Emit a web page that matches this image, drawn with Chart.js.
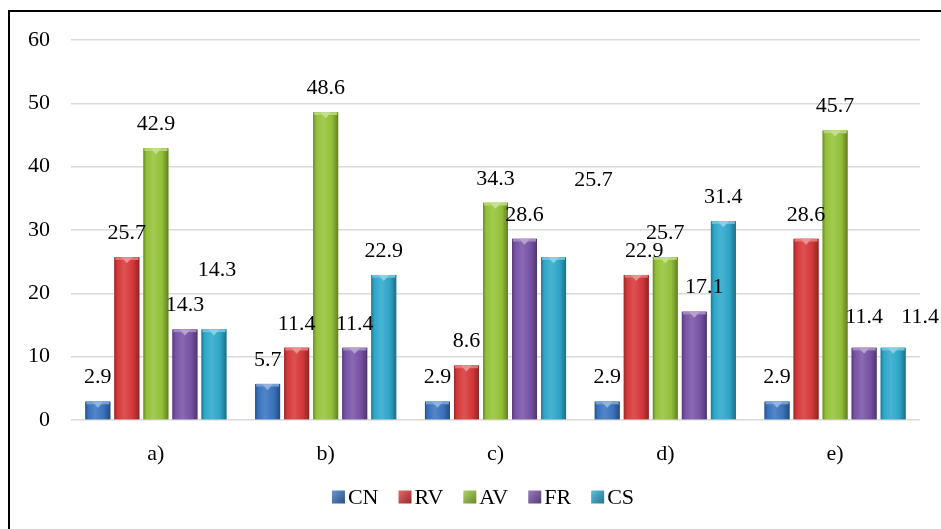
<!DOCTYPE html>
<html>
<head>
<meta charset="utf-8">
<script src="https://cdn.jsdelivr.net/npm/chart.js@4.4.1/dist/chart.umd.min.js"></script>
<style>
  html, body { margin: 0; padding: 0; background: #ffffff; }
  #wrap { width: 941px; height: 529px; position: relative; }
</style>
</head>
<body>
<div id="wrap"><canvas id="c" width="941" height="529"></canvas></div>
<script>
// Categories and series
const categories = ['a)', 'b)', 'c)', 'd)', 'e)'];
const seriesNames = ['CN', 'RV', 'AV', 'FR', 'CS'];
const cnValues = [2.9, 5.7, 2.9, 2.9, 2.9];
const rvValues = [25.7, 11.4, 8.6, 22.9, 28.6];
const avValues = [42.9, 48.6, 34.3, 25.7, 45.7];
const frValues = [14.3, 11.4, 28.6, 17.1, 11.4];
const csValues = [14.3, 22.9, 25.7, 31.4, 11.4];
const yTicks = [0, 10, 20, 30, 40, 50, 60];

const seriesValues = [cnValues, rvValues, avValues, frValues, csValues];
const seriesColors = ['#3a74c0', '#d8393b', '#96c43a', '#7a54a8', '#2fa9cc'];

// Nudges for value labels that sit away from the default spot above their bar
// key: "datasetIndex-categoryIndex" -> [dx, dy] in pixels
const labelNudge = {
  '4-0': [3, -35],
  '4-2': [40, -53],
  '1-3': [8, 0],
  '3-3': [10, 0],
  '3-4': [0, -7],
  '4-4': [27, -7]
};

const SERIF = '"Liberation Serif", "Times New Roman", serif';
const FONT_SIZE = 22;

function shade(hex, amt) {
  const n = parseInt(hex.slice(1), 16);
  let r = (n >> 16) & 255, g = (n >> 8) & 255, b = n & 255;
  if (amt >= 0) {
    r = Math.round(r + (255 - r) * amt); g = Math.round(g + (255 - g) * amt); b = Math.round(b + (255 - b) * amt);
  } else {
    r = Math.round(r * (1 + amt)); g = Math.round(g * (1 + amt)); b = Math.round(b * (1 + amt));
  }
  return `rgb(${r},${g},${b})`;
}

// Cylinder-like shading and bevelled cap on every bar
const barShading = {
  id: 'barShading',
  afterDatasetsDraw(chart) {
    const ctx = chart.ctx;
    chart.data.datasets.forEach((ds, di) => {
      const meta = chart.getDatasetMeta(di);
      const base = seriesColors[di];
      meta.data.forEach((bar) => {
        const left = bar.x - bar.width / 2;
        const right = bar.x + bar.width / 2;
        const top = bar.y;
        const bottom = bar.base;
        const w = right - left;
        ctx.save();
        const g = ctx.createLinearGradient(left, 0, right, 0);
        g.addColorStop(0, shade(base, -0.3));
        g.addColorStop(0.12, shade(base, -0.02));
        g.addColorStop(0.4, shade(base, 0.12));
        g.addColorStop(0.75, shade(base, -0.03));
        g.addColorStop(1, shade(base, -0.35));
        ctx.fillStyle = g;
        ctx.fillRect(left, top, w, bottom - top);
        // cap
        const capH = Math.min(6, bottom - top);
        ctx.fillStyle = shade(base, 0.3);
        ctx.fillRect(left + 1, top, w - 2, capH * 0.45);
        ctx.beginPath();
        ctx.moveTo(left + w * 0.28, top);
        ctx.lineTo(right - w * 0.28, top);
        ctx.lineTo(bar.x, top + capH);
        ctx.closePath();
        ctx.fillStyle = shade(base, 0.45);
        ctx.fill();
        ctx.restore();
      });
    });
  }
};

// Value labels above the bars
const valueLabels = {
  id: 'valueLabels',
  afterDatasetsDraw(chart) {
    const ctx = chart.ctx;
    ctx.save();
    ctx.font = `${FONT_SIZE}px ${SERIF}`;
    ctx.fillStyle = '#000000';
    ctx.textAlign = 'center';
    ctx.textBaseline = 'middle';
    chart.data.datasets.forEach((ds, di) => {
      const meta = chart.getDatasetMeta(di);
      meta.data.forEach((bar, i) => {
        const nudge = labelNudge[di + '-' + i] || [0, 0];
        ctx.fillText(ds.data[i].toFixed(1), bar.x + nudge[0], bar.y - 24 + nudge[1]);
      });
    });
    ctx.restore();
  }
};

// Legend row and the outer frame
const legendAndFrame = {
  id: 'legendAndFrame',
  afterDraw(chart) {
    const ctx = chart.ctx;
    ctx.save();
    ctx.font = `${FONT_SIZE}px ${SERIF}`;
    ctx.textBaseline = 'middle';
    ctx.textAlign = 'left';
    const box = 13, gapText = 3, gapItem = 20;
    const widths = chart.data.datasets.map(ds => box + gapText + ctx.measureText(ds.label).width);
    const total = widths.reduce((a, b) => a + b, 0) + gapItem * (widths.length - 1);
    let x = 483 - total / 2;
    const y = 497;
    chart.data.datasets.forEach((ds, di) => {
      const c = seriesColors[di];
      const g = ctx.createLinearGradient(x, y - box / 2, x + box, y + box / 2);
      g.addColorStop(0, shade(c, 0.25));
      g.addColorStop(1, shade(c, -0.3));
      ctx.fillStyle = g;
      ctx.fillRect(x, y - box / 2, box, box);
      ctx.fillStyle = '#000000';
      ctx.fillText(ds.label, x + box + gapText, y + 1);
      x += widths[di] + gapItem;
    });
    ctx.strokeStyle = '#000000';
    ctx.lineWidth = 2;
    ctx.beginPath();
    ctx.moveTo(9, 540);
    ctx.lineTo(9, 11);
    ctx.lineTo(945, 11);
    ctx.stroke();
    ctx.restore();
  }
};

const datasets = seriesNames.map((name, i) => ({
  label: name,
  data: seriesValues[i],
  backgroundColor: seriesColors[i],
  borderWidth: 0,
  categoryPercentage: 0.855,
  barPercentage: 0.86
}));

new Chart(document.getElementById('c'), {
  type: 'bar',
  data: { labels: categories, datasets },
  options: {
    responsive: false,
    animation: false,
    devicePixelRatio: 1,
    layout: { padding: { left: 0, right: 21, top: 40, bottom: 0 } },
    plugins: {
      legend: { display: false },
      tooltip: { enabled: false }
    },
    scales: {
      x: {
        grid: { display: false },
        border: { display: false },
        ticks: { color: '#000000', font: { family: SERIF, size: FONT_SIZE }, padding: 13 },
        afterFit(scale) { scale.height = 109; }
      },
      y: {
        min: 0,
        max: 60,
        afterBuildTicks(scale) { scale.ticks = yTicks.map(v => ({ value: v })); },
        grid: { color: '#d9d9d9', lineWidth: 1.5, drawTicks: false },
        border: { display: false },
        ticks: { color: '#000000', font: { family: SERIF, size: FONT_SIZE }, padding: 21 },
        afterFit(scale) { scale.width = 71; }
      }
    }
  },
  plugins: [barShading, valueLabels, legendAndFrame]
});
</script>
</body>
</html>
